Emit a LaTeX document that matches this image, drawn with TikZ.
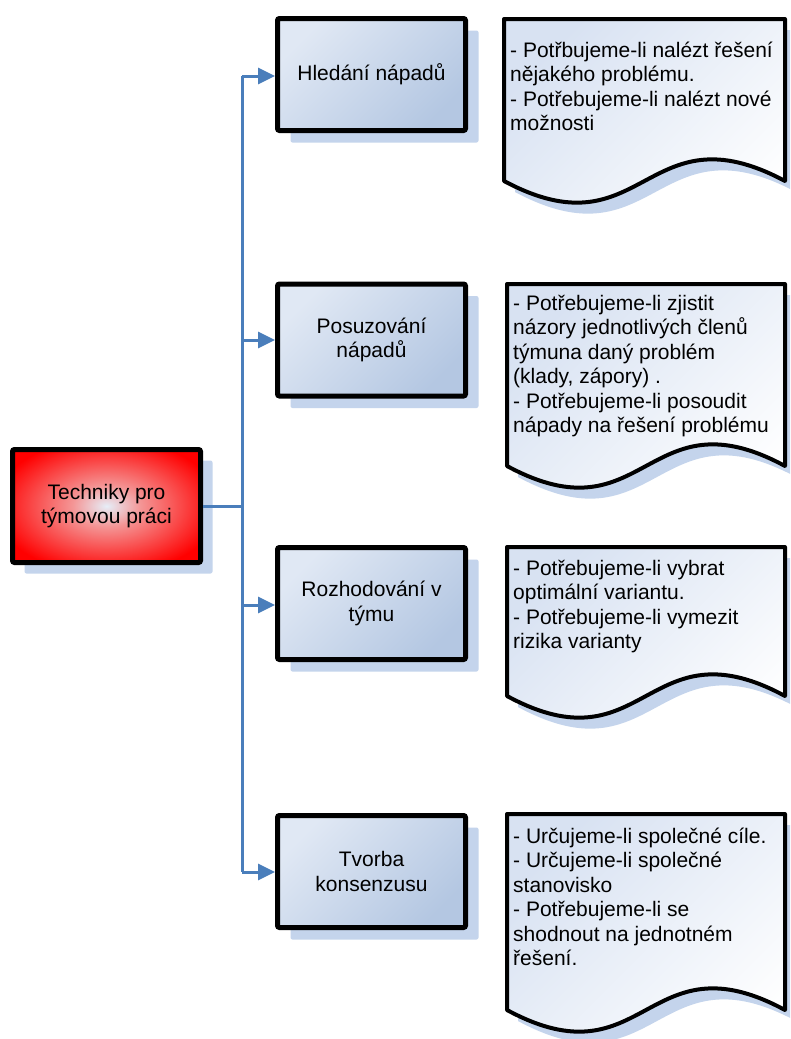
\documentclass[tikz,border=0pt]{standalone}
\usepackage{fontspec}
\setmainfont{Liberation Sans}
\usetikzlibrary{arrows.meta,shadows}
\definecolor{shadowc}{RGB}{196,212,236}
\definecolor{linkc}{RGB}{74,126,187}
\definecolor{boxA}{RGB}{224,232,244}
\definecolor{boxB}{RGB}{180,199,226}
\definecolor{docA}{RGB}{216,226,242}
\definecolor{rootin}{RGB}{230,238,248}
\definecolor{rootmid}{RGB}{244,150,150}
\pgfdeclareradialshading{rootshade}{\pgfpoint{0bp}{0bp}}{color(0bp)=(rootin); color(9bp)=(rootmid); color(30bp)=(red); color(50bp)=(red)}
\newcommand{\mydoc}[4]{%
  \pgfmathsetmacro\dxm{(#1+#2)/2}%
  \pgfmathsetmacro\dyu{#4-75}%
  \pgfmathsetmacro\dyd{#4+75}%
  \fill[shadowc,shift={(11pt,-11pt)}] (#1,#3) -- (#2,#3) -- (#2,#4) .. controls (\dxm,\dyu) and (\dxm,\dyd) .. (#1,#4) -- cycle;
  \draw[docshape] (#1,#3) -- (#2,#3) -- (#2,#4) .. controls (\dxm,\dyu) and (\dxm,\dyd) .. (#1,#4) -- cycle;
}
\tikzset{
  bigfont/.style={font=\fontsize{21}{24.5}\selectfont},
  bluebox/.style={draw=black, line width=5pt, rounded corners=2pt,
    top color=boxA, bottom color=boxB, shading angle=45,
    minimum width=188pt, minimum height=112pt, align=center, bigfont,
    general shadow={fill=shadowc, shadow xshift=13pt, shadow yshift=-12pt}},
  rootbox/.style={draw=black, line width=5pt, rounded corners=2pt,
    shading=rootshade,
    minimum width=188pt, minimum height=113pt, align=center, bigfont,
    general shadow={fill=shadowc, shadow xshift=12pt, shadow yshift=-11pt}},
  docshape/.style={draw=black, line width=4pt, line join=round,
    top color=docA, bottom color=white, shading angle=45},
  doctext/.style={anchor=north west, inner sep=0pt, align=left, bigfont},
  link/.style={draw=linkc, line width=3pt},
  linkarrow/.style={link, -{Triangle[length=17pt,width=16pt]}},
}
\begin{document}
\begin{tikzpicture}[x=1pt,y=-1pt]
\useasboundingbox (0,0) rectangle (790,1039);
\clip (0,0) rectangle (790,1039);
\fill[white] (0,0) rectangle (790,1039);

% documents
\mydoc{504}{785}{19}{181}
\node[doctext] (t1) at (510,39.85) {\strut - Potřbujeme-li nalézt řešení\\nějakého problému.\\- Potřebujeme-li nalézt nové\\možnosti};
\mydoc{507}{785}{284}{466}
\node[doctext] (t2) at (513,292.85) {\strut - Potřebujeme-li zjistit\\názory jednotlivých členů\\týmuna daný problém\\(klady, zápory) .\\- Potřebujeme-li posoudit\\nápady na řešení problému};
\mydoc{507}{785}{547}{696}
\node[doctext] (t3) at (513,557.85) {\strut - Potřebujeme-li vybrat\\optimální variantu.\\- Potřebujeme-li vymezit\\rizika varianty};
\mydoc{507}{785}{814}{1010}
\node[doctext] (t4) at (513,825.85) {\strut - Určujeme-li společné cíle.\\- Určujeme-li společné\\stanovisko\\- Potřebujeme-li se\\shodnout na jednotném\\řešení.};

% boxes
\node[rootbox] (root) at (106.5,506) {Techniky pro\\týmovou práci};
\node[bluebox] (b1) at (371.5,74.5) {Hledání nápadů};
\node[bluebox] (b2) at (371.5,340) {Posuzování\\nápadů};
\node[bluebox] (b3) at (371.5,603.5) {Rozhodování v\\týmu};
\node[bluebox] (b4) at (371.5,871.5) {Tvorba\\konsenzusu};

% connectors
\coordinate (jr) at (242,506);
\coordinate (j1) at (242,76);
\coordinate (j2) at (242,340);
\coordinate (j3) at (242,605);
\coordinate (j4) at (242,872);
\draw[link] (root.east) -- (jr);
\draw[link] (j1) -- (j4);
\draw[linkarrow] (j1) -- (j1 -| b1.west);
\draw[linkarrow] (j2) -- (j2 -| b2.west);
\draw[linkarrow] (j3) -- (j3 -| b3.west);
\draw[linkarrow] (j4) -- (j4 -| b4.west);
\end{tikzpicture}
\end{document}
